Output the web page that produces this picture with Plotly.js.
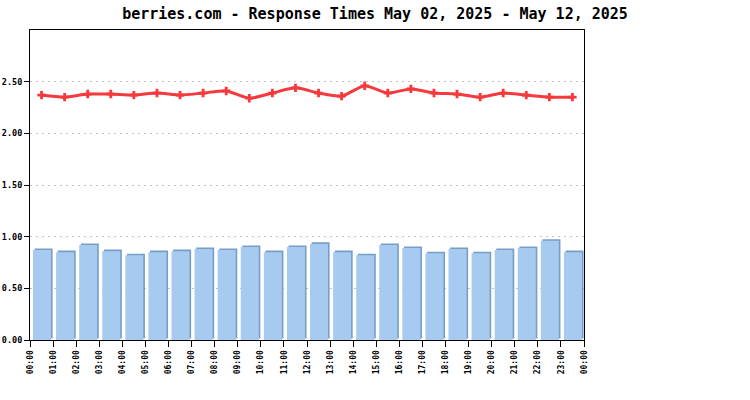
<!DOCTYPE html>
<html>
<head>
<meta charset="utf-8">
<script src="https://cdn.plot.ly/plotly-3.0.1.min.js"></script>
<style>html,body{margin:0;padding:0;background:#fff;}#chart{width:750px;height:400px;}</style>
</head>
<body>
<div id="chart"></div>
<script>
const hours = ['00:00','01:00','02:00','03:00','04:00','05:00','06:00','07:00','08:00','09:00','10:00','11:00',
               '12:00','13:00','14:00','15:00','16:00','17:00','18:00','19:00','20:00','21:00','22:00','23:00'];
const tickLabels = hours.concat(['00:00']);
const barValues = [0.87,0.85,0.92,0.86,0.82,0.85,0.86,0.88,0.87,0.90,0.85,0.90,
                   0.93,0.85,0.82,0.92,0.89,0.84,0.88,0.84,0.87,0.89,0.96,0.85];
const lineValues = [2.37,2.35,2.38,2.38,2.37,2.39,2.37,2.39,2.41,2.34,2.39,2.44,
                    2.39,2.36,2.46,2.39,2.43,2.39,2.38,2.35,2.39,2.37,2.35,2.35];
const yTicks = [0,0.5,1,1.5,2,2.5];

const xIdx = hours.map((h,i)=>i);
const tickPos = tickLabels.map((t,i)=>i-0.5);

const mono = 'DejaVu Sans Mono, monospace';

const shadow = {
  type:'bar', x:xIdx, y:barValues, base:0.015, offset:-0.30, width:0.78,
  marker:{color:'#789ec6', line:{width:0}}, hoverinfo:'skip', showlegend:false
};
const bars = {
  type:'bar', x:xIdx, y:barValues, offset:-0.37, width:0.78,
  marker:{color:'#a6caf0', line:{width:0}}, showlegend:false
};
const line = {
  type:'scatter', mode:'lines+markers', x:xIdx, y:lineValues,
  line:{color:'#f5393d', width:3, shape:'spline', smoothing:0.6},
  marker:{symbol:'cross', size:7, color:'#f5393d'}, showlegend:false
};

const layout = {
  width:750, height:400,
  margin:{l:30, r:166, t:30, b:60, pad:0},
  paper_bgcolor:'#fff', plot_bgcolor:'#fff',
  barmode:'overlay',
  title:{text:'berries.com - Response Times May 02, 2025 - May 12, 2025',
         font:{family:mono, size:15, color:'#000', weight:'bold'},
         xref:'container', x:0.5, xanchor:'center', yref:'container', y:0.965, yanchor:'middle'},
  xaxis:{range:[-0.5,23.5], tickmode:'array', tickvals:tickPos, ticktext:tickLabels,
         tickangle:-90, ticks:'outside', ticklen:6, tickcolor:'#000', tickwidth:1,
         showline:true, linecolor:'#000', linewidth:1, mirror:true,
         showgrid:false, zeroline:false, fixedrange:true,
         tickfont:{family:mono, size:8, color:'#000', weight:'bold'}},
  yaxis:{range:[0,3.0], tickmode:'array', tickvals:yTicks, tickformat:'.2f',
         ticks:'outside', ticklen:5, tickcolor:'#000', tickwidth:1,
         showline:true, linecolor:'#000', linewidth:1, mirror:true,
         showgrid:true, gridcolor:'#c0c0c0', griddash:'2px,4px', gridwidth:1,
         zeroline:false, fixedrange:true,
         tickfont:{family:mono, size:8.5, color:'#000', weight:'bold'}}
};

Plotly.newPlot('chart', [shadow, bars, line], layout, {displayModeBar:false, staticPlot:true});
</script>
</body>
</html>
